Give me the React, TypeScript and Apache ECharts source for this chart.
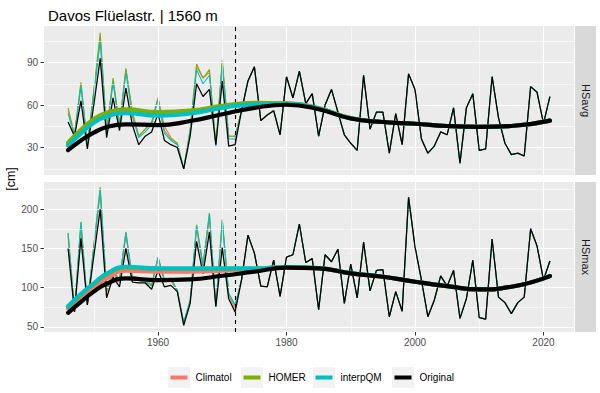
import { useEffect, useRef } from "react";
import * as echarts from "echarts";

const FONT = "Liberation Sans, Arial, sans-serif";

const firstYear = 1946;
const lastYear = 2021;
const years: number[] = [];
for (let y = firstYear; y <= lastYear; y++) years.push(y);

const breakYear = 1972;
const xTicks = [1960, 1980, 2000, 2020];
const xMinor = [1950, 1970, 1990, 2010];
const avgTicks = [30, 60, 90];
const avgMinor = [15, 45, 75, 105];
const maxTicks = [50, 100, 150, 200];
const maxMinor = [75, 125, 175, 225];

// HSavg – original series 1946..2021
const hsavgOriginal = [
  48, 38, 63, 29, 60, 93, 37, 65, 42, 72, 46, 32, 38, 41, 54, 35, 32, 30, 15, 38, 75, 66, 71, 32, 77, 31, 32,
  56, 77, 87, 49, 53, 56, 39, 80, 65, 84,
  61, 68, 38, 60, 71, 55, 39, 33, 28, 81,
  43, 55, 55, 26, 54, 32, 82, 71, 36, 26,
  31, 41, 39, 58, 19, 58, 68, 28, 29, 80,
  51, 33, 25, 26, 24, 73, 69, 47, 66,
];
// homogenized HSavg 1946..1972 (identical to original afterwards)
const hsavgClimatolEarly = [56, 39, 75, 32, 69, 108, 42, 77, 46, 85, 55, 38, 43, 47, 65, 45, 37, 33, 15, 42, 87, 79, 83, 32, 90, 38, 38];
const hsavgHomerEarly = [58, 39, 76, 32, 70, 111, 42, 79, 46, 86, 55, 38, 43, 48, 65, 42, 36, 33, 15, 43, 89, 79, 85, 32, 92, 38, 38];
const hsavgInterpQMEarly = [54, 38, 73, 31, 67, 105, 40, 76, 44, 83, 52, 37, 41, 46, 64, 40, 35, 32, 15, 41, 85, 75, 81, 31, 88, 36, 36];

// HSmax – original series 1946..2021
const hsmaxOriginal = [
  150, 69, 163, 78, 140, 200, 87, 114, 101, 150, 107, 106, 106, 98, 122, 101, 103, 95, 52, 80, 159, 118, 171, 76, 151, 86, 69,
  110, 167, 144, 102, 101, 135, 89, 139, 142, 181,
  132, 137, 72, 142, 133, 149, 80, 130, 87, 158,
  96, 122, 123, 63, 95, 70, 215, 152, 110, 63,
  84, 115, 102, 122, 61, 86, 135, 62, 60, 162,
  88, 81, 67, 81, 88, 175, 153, 110, 134,
];
const hsmaxClimatolEarly = [165, 70, 178, 78, 149, 220, 94, 118, 107, 166, 115, 113, 110, 104, 135, 107, 109, 96, 54, 82, 175, 126, 189, 76, 182, 90, 73];
const hsmaxHomerEarly = [170, 72, 184, 79, 153, 228, 96, 121, 109, 171, 110, 109, 107, 102, 139, 109, 111, 97, 55, 84, 180, 128, 195, 76, 187, 92, 77];
const hsmaxInterpQMEarly = [169, 72, 183, 79, 152, 225, 97, 122, 110, 170, 111, 110, 108, 103, 139, 110, 112, 97, 56, 84, 179, 129, 194, 76, 186, 93, 78];

// smoothed trend lines
const smoothYears = [1946, 1948, 1950, 1952, 1955, 1960, 1965, 1970, 1975, 1980, 1985, 1990, 1995, 2000, 2005, 2010, 2015, 2021];
const avgSmoothOriginal = [28.2, 35, 40.5, 44.5, 46.4, 45.8, 48.7, 53.5, 58, 60.2, 57, 50.5, 48, 46.8, 45.2, 44.6, 45.2, 49];
const avgSmoothHomer = [33.5, 42.5, 50, 54.5, 57, 55, 56, 59.5, 61.6, 61.2, 57.8, 50.8, 48, 46.8, 45.2, 44.6, 45.2, 49];
const avgSmoothClimatol = [32.5, 41.5, 49, 53.5, 55.8, 54, 55, 59, 61.2, 61, 57.6, 50.7, 48, 46.8, 45.2, 44.6, 45.2, 49];
const avgSmoothInterpQM = [31.5, 40, 47.5, 52, 54.2, 52.5, 54, 58, 60.5, 60.8, 57.5, 50.6, 48, 46.8, 45.2, 44.6, 45.2, 49];
const maxSmoothOriginal = [68, 82, 95, 105, 111.8, 109.7, 110.6, 115.2, 120.4, 125.5, 124.6, 118.2, 114, 107.6, 102, 97.8, 101.2, 114.8];
const maxSmoothHomer = [75.5, 91, 104.5, 117, 125.8, 123.8, 123.8, 124, 124.2, 126.2, 124.9, 118.4, 114, 107.6, 102, 97.8, 101.2, 114.8];
const maxSmoothClimatol = [73.5, 87.5, 100, 112, 121.6, 120.4, 120.4, 121.6, 123.5, 126, 124.8, 118.3, 114, 107.6, 102, 97.8, 101.2, 114.8];
const maxSmoothInterpQM = [76.5, 92, 105.5, 118, 126.7, 124.6, 124.6, 124.6, 124.5, 126.3, 125, 118.5, 114, 107.6, 102, 97.8, 101.2, 114.8];

const seriesNames = ["Climatol", "HOMER", "interpQM", "Original"];
const colors = ["#F8766D", "#7CAE00", "#00BFC4", "#000000"];
const panels = ["HSavg", "HSmax"];

function full(early: number[], orig: number[]) {
  return early.concat(orig.slice(early.length));
}
function pairs(xs: number[], ys: number[]) {
  return xs.map((x, i) => [x, ys[i]]);
}

export default function App() {
  const ref = useRef<HTMLDivElement>(null);
  useEffect(() => {
    const chart = echarts.init(ref.current!, null, { renderer: "svg" });

    const L = 44, W = 530;
    const T0 = 26, H0 = 149, T1 = 182, H1 = 150;

    const raw = [
      [full(hsavgClimatolEarly, hsavgOriginal), full(hsavgHomerEarly, hsavgOriginal), full(hsavgInterpQMEarly, hsavgOriginal), hsavgOriginal],
      [full(hsmaxClimatolEarly, hsmaxOriginal), full(hsmaxHomerEarly, hsmaxOriginal), full(hsmaxInterpQMEarly, hsmaxOriginal), hsmaxOriginal],
    ];
    const smooth = [
      [avgSmoothClimatol, avgSmoothHomer, avgSmoothInterpQM, avgSmoothOriginal],
      [maxSmoothClimatol, maxSmoothHomer, maxSmoothInterpQM, maxSmoothOriginal],
    ];
    const minors = [avgMinor, maxMinor];
    const majors = [avgTicks, maxTicks];

    const series: any[] = [];
    for (let p = 0; p < 2; p++) {
      const gl: any[] = [];
      xMinor.forEach((v) => gl.push({ xAxis: v, lineStyle: { width: 0.55 } }));
      minors[p].forEach((v) => gl.push({ yAxis: v, lineStyle: { width: 0.55 } }));
      xTicks.forEach((v) => gl.push({ xAxis: v, lineStyle: { width: 1.1 } }));
      majors[p].forEach((v) => gl.push({ yAxis: v, lineStyle: { width: 1.1 } }));
      series.push({
        type: "line",
        xAxisIndex: p,
        yAxisIndex: p,
        data: [],
        z: 1,
        silent: true,
        markLine: {
          silent: true,
          symbol: ["none", "none"],
          label: { show: false },
          lineStyle: { color: "#FFFFFF", type: "solid" },
          emphasis: { disabled: true },
          data: gl,
        },
      });
      for (let s = 0; s < 4; s++) {
        series.push({
          type: "line",
          name: seriesNames[s],
          xAxisIndex: p,
          yAxisIndex: p,
          data: pairs(years, raw[p][s]),
          showSymbol: false,
          symbol: "none",
          lineStyle: { color: colors[s], width: s === 3 ? 1.25 : 1.1 },
          itemStyle: { color: colors[s] },
          z: 2 + s,
          silent: true,
        });
      }
      for (let s = 0; s < 4; s++) {
        series.push({
          type: "line",
          name: seriesNames[s],
          xAxisIndex: p,
          yAxisIndex: p,
          data: pairs(smoothYears, smooth[p][s]),
          smooth: 0.5,
          showSymbol: false,
          symbol: "none",
          lineStyle: { color: colors[s], width: 4.2, cap: "round" },
          itemStyle: { color: colors[s] },
          z: 6 + s,
          silent: true,
        });
      }
      series.push({
        type: "line",
        xAxisIndex: p,
        yAxisIndex: p,
        data: [],
        z: 12,
        silent: true,
        markLine: {
          silent: true,
          symbol: ["none", "none"],
          label: { show: false },
          lineStyle: { color: "#000000", type: [4, 4], width: 1.1 },
          data: [{ xAxis: breakYear }],
        },
      });
    }

    const xBase = {
      type: "value",
      min: 1942.25,
      max: 2024.75,
      axisLine: { show: false },
      splitLine: { show: false },
    };
    const yLabel = (vals: number[]) => ({
      customValues: vals,
      color: "#4D4D4D",
      fontSize: 10,
      fontFamily: FONT,
      margin: 6,
      formatter: (v: number) => String(v),
    });
    const tick = (vals: number[]) => ({
      show: true,
      customValues: vals,
      length: 3.5,
      lineStyle: { color: "#333333", width: 1 },
    });

    const legendX = [168, 241, 313, 392];
    const legendG: any[] = [];
    seriesNames.forEach((n, i) => {
      legendG.push({ type: "rect", shape: { x: legendX[i], y: 367, width: 22, height: 21 }, style: { fill: "#F2F2F2" }, silent: true });
      legendG.push({ type: "line", shape: { x1: legendX[i] + 2.5, y1: 377.5, x2: legendX[i] + 19.5, y2: 377.5 }, style: { stroke: colors[i], lineWidth: 4 }, silent: true });
      legendG.push({ type: "text", x: legendX[i] + 27.5, y: 377.5, style: { text: n, fill: "#000000", fontSize: 10, fontFamily: FONT, align: "left", verticalAlign: "middle" }, silent: true });
    });

    chart.setOption({
      animation: false,
      backgroundColor: "#FFFFFF",
      title: {
        text: "Davos Flüelastr. | 1560 m",
        left: 43,
        top: 3,
        textStyle: { fontSize: 15, fontWeight: "normal", color: "#000000", fontFamily: FONT },
      },
      grid: [
        { left: L, top: T0, width: W, height: H0, show: true, backgroundColor: "#EBEBEB", borderWidth: 0 },
        { left: L, top: T1, width: W, height: H1, show: true, backgroundColor: "#EBEBEB", borderWidth: 0 },
      ],
      xAxis: [
        { ...xBase, gridIndex: 0, axisLabel: { show: false }, axisTick: { show: false } },
        {
          ...xBase,
          gridIndex: 1,
          axisLabel: { customValues: xTicks, color: "#4D4D4D", fontSize: 10, fontFamily: FONT, margin: 5, formatter: (v: number) => String(v) },
          axisTick: tick(xTicks),
        },
      ],
      yAxis: [
        { type: "value", gridIndex: 0, min: 10.6, max: 115.8, axisLine: { show: false }, splitLine: { show: false }, axisLabel: yLabel(avgTicks), axisTick: tick(avgTicks) },
        { type: "value", gridIndex: 1, min: 43.6, max: 234.6, axisLine: { show: false }, splitLine: { show: false }, axisLabel: yLabel(maxTicks), axisTick: tick(maxTicks) },
      ],
      series,
      graphic: [
        { type: "rect", shape: { x: 575, y: T0, width: 21, height: H0 }, style: { fill: "#D9D9D9" }, silent: true },
        { type: "rect", shape: { x: 575, y: T1, width: 21, height: H1 }, style: { fill: "#D9D9D9" }, silent: true },
        { type: "text", x: 585.5, y: T0 + H0 / 2, rotation: -Math.PI / 2, style: { text: panels[0], fill: "#1A1A1A", fontSize: 11, fontFamily: FONT, align: "center", verticalAlign: "middle" }, silent: true },
        { type: "text", x: 585.5, y: T1 + H1 / 2, rotation: -Math.PI / 2, style: { text: panels[1], fill: "#1A1A1A", fontSize: 11, fontFamily: FONT, align: "center", verticalAlign: "middle" }, silent: true },
        { type: "text", x: 11, y: 179, rotation: Math.PI / 2, style: { text: "[cm]", fill: "#000000", fontSize: 12.5, fontFamily: FONT, align: "center", verticalAlign: "middle" }, silent: true },
        ...legendG,
      ],
    });
    return () => chart.dispose();
  }, []);
  return <div ref={ref} style={{ position: "absolute", left: 0, top: 0, width: 600, height: 393 }} />;
}
